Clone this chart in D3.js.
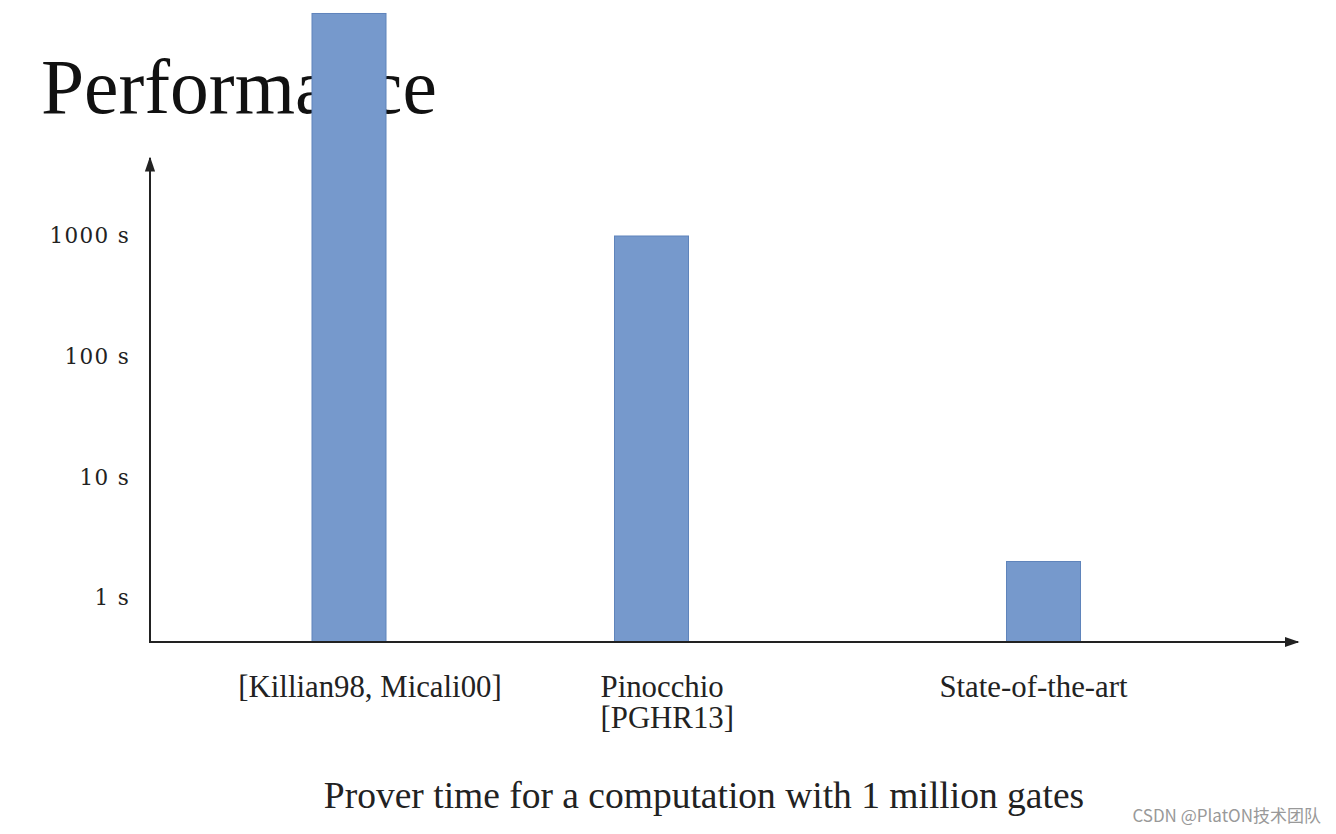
<!DOCTYPE html>
<html>
<head>
<meta charset="utf-8">
<script src="https://cdn.jsdelivr.net/npm/d3@7/dist/d3.min.js"></script>
<style>
  html, body { margin: 0; padding: 0; background: #ffffff; }
  svg { display: block; }
</style>
</head>
<body>
<svg id="chart" width="1336" height="834"></svg>
<script>
// ---- data ----
const categories = ["Killian98, Micali00", "Pinocchio", "State-of-the-art"];
const categoryLabels = [["[Killian98, Micali00]"], ["Pinocchio", "[PGHR13]"], ["State-of-the-art"]];
const proverSeconds = [70000, 1000, 2];
const yTickValues = [1, 10, 100, 1000];
const yTickSuffix = " s";
const titleText = "Performance";
const captionText = "Prover time for a computation with 1 million gates";
const watermarkText = "CSDN @PlatON技术团队";

// ---- layout ----
const W = 1336, H = 834;
const axisX = 150, axisY = 642, axisTopY = 158, axisRightX = 1298;
const barWidth = 74;
const barCenters = [349, 651.5, 1043.5];
const labelLayout = [
  { anchor: "middle", dx: 21 },
  { anchor: "start", dx: -51 },
  { anchor: "middle", dx: -10 }
];
const serif = "'Liberation Serif', 'Times New Roman', serif";
const barFill = "#7699cc";
const barStroke = "#5f84bb";
const axisColor = "#222";

const svg = d3.select("#chart");

const y = d3.scaleLog().domain([0.43, 1000]).range([axisY, 236]);
const x = d3.scaleOrdinal().domain(categories).range(barCenters);

// Title (drawn under the bars)
svg.append("text")
  .attr("x", 41).attr("y", 113)
  .attr("font-family", serif).attr("font-size", 77.5)
  .attr("fill", "#111")
  .text(titleText);

// Arrow marker
const defs = svg.append("defs");
defs.append("marker")
  .attr("id", "arrow")
  .attr("viewBox", "0 0 10 10")
  .attr("refX", 9).attr("refY", 5)
  .attr("markerWidth", 7.5).attr("markerHeight", 7.5)
  .attr("markerUnits", "strokeWidth")
  .attr("orient", "auto")
  .append("path").attr("d", "M0,1.6 L10,5 L0,8.4 Z").attr("fill", axisColor);

// Bars
const data = categories.map((c, i) => ({ c, v: proverSeconds[i], i }));
svg.append("g").selectAll("rect").data(data).join("rect")
  .attr("x", d => x(d.c) - barWidth / 2)
  .attr("y", d => y(d.v))
  .attr("width", barWidth)
  .attr("height", d => axisY - y(d.v))
  .attr("fill", barFill)
  .attr("stroke", barStroke)
  .attr("stroke-width", 1);

// Y axis tick labels (no ticks, no domain)
const yAxis = d3.axisLeft(y).tickValues(yTickValues).tickSize(0).tickPadding(0)
  .tickFormat(d => d + yTickSuffix);
const gy = svg.append("g").attr("transform", `translate(${axisX - 20},0)`).call(yAxis);
gy.select(".domain").remove();
gy.selectAll("text")
  .attr("font-family", "'DejaVu Serif', serif")
  .attr("font-size", 21.5)
  .attr("letter-spacing", 1.3)
  .attr("fill", "#222");

// Axis lines with arrows
svg.append("line")
  .attr("x1", axisX).attr("y1", axisY + 1).attr("x2", axisX).attr("y2", axisTopY)
  .attr("stroke", axisColor).attr("stroke-width", 2).attr("marker-end", "url(#arrow)");
svg.append("line")
  .attr("x1", axisX - 1).attr("y1", axisY).attr("x2", axisRightX).attr("y2", axisY)
  .attr("stroke", axisColor).attr("stroke-width", 2).attr("marker-end", "url(#arrow)");

// Category labels
const labels = svg.append("g").selectAll("text").data(data).join("text")
  .attr("x", d => x(d.c) + labelLayout[d.i].dx)
  .attr("y", 697)
  .attr("text-anchor", d => labelLayout[d.i].anchor)
  .attr("font-family", serif).attr("font-size", 30.8)
  .attr("fill", "#222");
labels.selectAll("tspan").data(d => categoryLabels[d.i].map(t => ({ t, d }))).join("tspan")
  .attr("x", p => x(p.d.c) + labelLayout[p.d.i].dx)
  .attr("dy", (p, j) => j === 0 ? 0 : 31)
  .text(p => p.t);

// Caption
svg.append("text")
  .attr("x", 704).attr("y", 808)
  .attr("text-anchor", "middle")
  .attr("font-family", serif).attr("font-size", 37.5)
  .attr("fill", "#222")
  .text(captionText);

// Watermark
svg.append("text")
  .attr("x", 1321).attr("y", 822)
  .attr("text-anchor", "end")
  .attr("font-family", "'Noto Sans CJK SC', 'Noto Sans', sans-serif")
  .attr("font-size", 17)
  .attr("fill", "#999")
  .text(watermarkText);
</script>
</body>
</html>
